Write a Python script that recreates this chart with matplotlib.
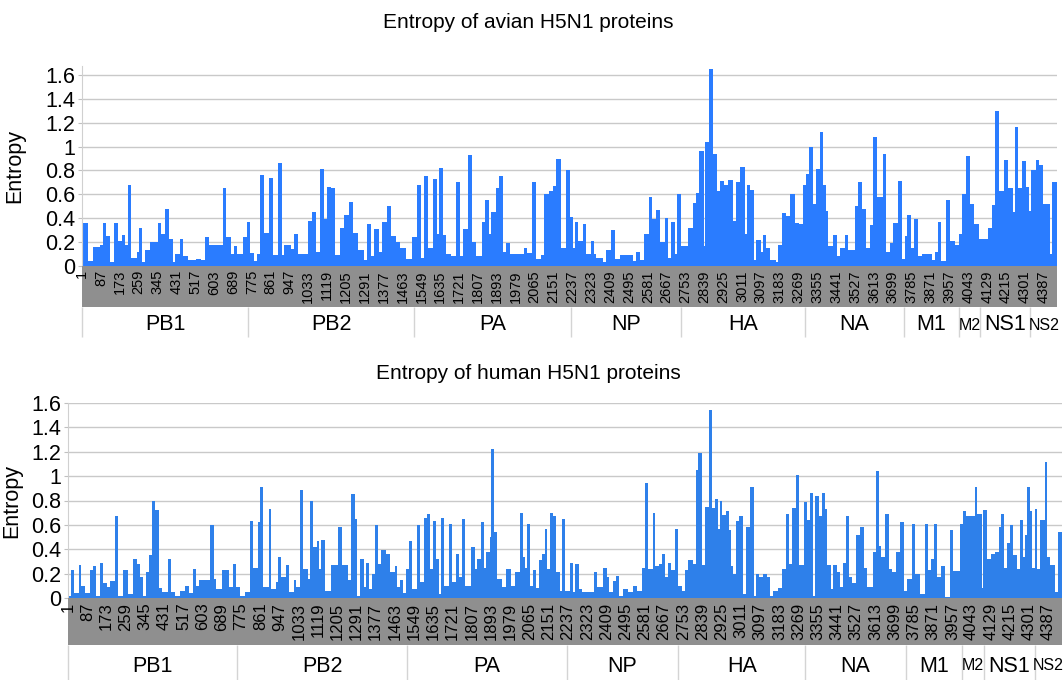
import numpy as np
import matplotlib
matplotlib.use("Agg")
import matplotlib.pyplot as plt

plt.rcParams['font.family'] = ['Liberation Sans', 'DejaVu Sans']

# proteins in the concatenated alignment and their lengths (residues)
proteins = ["PB1", "PB2", "PA", "NP", "HA", "NA", "M1", "M2", "NS1", "NS2"]
protein_len = [757, 759, 716, 498, 568, 449, 252, 97, 230, 121]
tick_step = 86

# entropy profile: a step starts at each position
avian_start = [
    1, 27, 51, 81, 95, 109, 128, 147, 163, 182,
    198, 209, 224, 252, 259, 274, 290, 312, 349, 363,
    381, 396, 414, 425, 448, 463, 484, 522, 545, 563,
    581, 642, 659, 680, 692, 707, 736, 753, 768, 786,
    801, 812, 829, 856, 871, 894, 911, 923, 955, 969,
    984, 1032, 1052, 1069, 1087, 1105, 1117, 1136, 1154, 1178,
    1197, 1219, 1237, 1259, 1288, 1303, 1321, 1333, 1356, 1368,
    1391, 1409, 1432, 1452, 1480, 1508, 1529, 1546, 1562, 1580,
    1600, 1619, 1629, 1647, 1663, 1685, 1707, 1725, 1739, 1763,
    1780, 1796, 1824, 1840, 1856, 1868, 1889, 1903, 1921, 1936,
    1951, 2015, 2030, 2053, 2071, 2096, 2108, 2132, 2150, 2165,
    2184, 2208, 2226, 2240, 2249, 2264, 2287, 2302, 2322, 2335,
    2346, 2378, 2393, 2415, 2431, 2454, 2513, 2530, 2548, 2565,
    2585, 2603, 2618, 2636, 2659, 2676, 2689, 2707, 2715, 2735,
    2764, 2788, 2803, 2817, 2837, 2844, 2863, 2878, 2895, 2910,
    2930, 2948, 2968, 2983, 3003, 3026, 3035, 3050, 3065, 3077,
    3096, 3108, 3123, 3141, 3166, 3176, 3193, 3213, 3232, 3251,
    3272, 3290, 3305, 3317, 3334, 3348, 3365, 3383, 3393, 3404,
    3425, 3443, 3460, 3480, 3497, 3526, 3542, 3560, 3577, 3595,
    3609, 3627, 3655, 3670, 3687, 3702, 3725, 3743, 3753, 3764,
    3781, 3797, 3813, 3830, 3876, 3890, 3904, 3920, 3940, 3958,
    3981, 4001, 4016, 4034, 4052, 4070, 4092, 4133, 4153, 4167,
    4183, 4208, 4226, 4246, 4255, 4271, 4287, 4305, 4319, 4328,
    4350, 4366, 4385, 4416, 4426,
]
avian_entropy = [
    .36, .04, .16, .18, .36, .25, .03, .36, .21, .26,
    .18, .68, .07, .12, .32, .03, .13, .2, .36, .27,
    .48, .23, .03, .1, .23, .08, .05, .06, .05, .24,
    .18, .65, .24, .1, .17, .1, .24, .37, .11, .04,
    .1, .76, .28, .74, .09, .86, .09, .18, .14, .27,
    .1, .38, .45, .12, .81, .39, .66, .65, .09, .32,
    .43, .54, .28, .13, .05, .35, .08, .31, .12, .37,
    .5, .25, .2, .15, .06, .24, .68, .07, .75, .15,
    .73, .27, .82, .26, .1, .08, .7, .08, .31, .93,
    .2, .08, .37, .55, .27, .45, .65, .75, .12, .19,
    .1, .15, .11, .7, .06, .09, .6, .63, .67, .9,
    .15, .8, .41, .15, .37, .21, .35, .1, .21, .1,
    .07, .03, .13, .3, .06, .09, .04, .12, .05, .27,
    .58, .39, .47, .2, .4, .07, .37, .1, .6, .17,
    .32, .53, .61, .96, .17, 1.04, 1.65, .94, .63, .71,
    .68, .72, .38, .7, .83, .27, .68, .64, .05, .22,
    .12, .26, .15, .05, .03, .18, .44, .42, .6, .36,
    .35, .68, .77, 1.0, .52, .81, 1.12, .68, .46, .17,
    .26, .08, .15, .26, .13, .5, .7, .48, .15, .34,
    1.08, .58, .94, .12, .19, .36, .71, .06, .25, .43,
    .15, .39, .08, .1, .05, .12, .37, .04, .55, .21,
    .18, .27, .6, .92, .52, .35, .23, .32, .51, 1.3,
    .63, .89, .65, .45, 1.16, .65, .88, .66, .46, .8,
    .89, .85, .52, .1, .7,
]

human_start = [
    1, 13, 27, 51, 61, 79, 101, 112, 127, 145,
    156, 176, 191, 212, 225, 248, 270, 294, 310, 323,
    336, 349, 365, 377, 392, 407, 422, 449, 464, 480,
    502, 525, 541, 560, 574, 589, 637, 653, 663, 689,
    723, 738, 753, 772, 795, 814, 829, 853, 862, 872,
    899, 911, 932, 942, 956, 977, 988, 1011, 1023, 1041,
    1051, 1073, 1085, 1096, 1115, 1125, 1135, 1152, 1179, 1209,
    1227, 1254, 1269, 1284, 1293, 1308, 1324, 1334, 1346, 1363,
    1373, 1387, 1403, 1424, 1443, 1464, 1475, 1487, 1499, 1515,
    1527, 1542, 1561, 1576, 1594, 1605, 1620, 1634, 1648, 1661,
    1669, 1681, 1705, 1718, 1736, 1751, 1763, 1778, 1806, 1822,
    1833, 1849, 1864, 1873, 1888, 1895, 1909, 1921, 1942, 1962,
    1982, 2001, 2024, 2035, 2046, 2056, 2068, 2083, 2095, 2106,
    2121, 2134, 2146, 2156, 2170, 2183, 2201, 2210, 2223, 2247,
    2262, 2271, 2286, 2302, 2353, 2367, 2396, 2411, 2423, 2441,
    2451, 2465, 2484, 2508, 2530, 2545, 2568, 2583, 2598, 2617,
    2629, 2644, 2660, 2672, 2686, 2697, 2717, 2732, 2747, 2763,
    2774, 2796, 2811, 2820, 2836, 2851, 2870, 2882, 2894, 2909,
    2917, 2929, 2944, 2956, 2968, 2974, 2990, 3005, 3020, 3035,
    3053, 3068, 3080, 3094, 3112, 3127, 3142, 3157, 3178, 3197,
    3212, 3227, 3242, 3257, 3270, 3294, 3309, 3320, 3335, 3343,
    3363, 3373, 3388, 3397, 3413, 3425, 3440, 3455, 3467, 3481,
    3494, 3510, 3528, 3545, 3560, 3577, 3601, 3615, 3630, 3640,
    3658, 3672, 3686, 3705, 3724, 3739, 3756, 3776, 3789, 3813,
    3835, 3850, 3861, 3876, 3891, 3906, 3925, 3947, 3962, 3990,
    4005, 4020, 4059, 4069, 4089, 4096, 4111, 4132, 4149, 4166,
    4177, 4189, 4204, 4214, 4228, 4245, 4259, 4272, 4283, 4292,
    4305, 4314, 4326, 4338, 4351, 4371, 4382, 4393, 4417, 4429,
]
human_entropy = [
    .02, .23, .04, .27, .1, .04, .23, .26, .02, .29,
    .12, .09, .14, .67, .02, .23, .03, .32, .28, .17,
    .02, .21, .35, .8, .72, .08, .05, .32, .05, .02,
    .06, .1, .04, .24, .1, .15, .6, .16, .07, .23,
    .09, .28, .09, .02, .05, .63, .25, .62, .91, .09,
    .73, .07, .13, .34, .17, .27, .05, .15, .09, .89,
    .24, .16, .8, .42, .47, .24, .48, .06, .27, .58,
    .27, .15, .85, .65, .02, .32, .09, .29, .07, .2,
    .6, .28, .39, .36, .21, .26, .09, .15, .04, .24,
    .47, .07, .6, .13, .66, .69, .24, .63, .32, .03,
    .66, .1, .61, .13, .36, .17, .65, .1, .42, .24,
    .32, .62, .25, .38, .5, 1.22, .54, .16, .09, .24,
    .1, .21, .7, .34, .25, .61, .1, .23, .08, .31,
    .36, .57, .24, .7, .67, .21, .06, .65, .06, .29,
    .05, .28, .07, .05, .21, .09, .25, .17, .05, .14,
    .18, .02, .07, .05, .1, .06, .25, .94, .24, .7,
    .26, .28, .36, .17, .29, .23, .57, .1, .06, .23,
    .31, .28, 1.05, 1.19, .27, .75, 1.54, .74, .81, .57,
    .8, .68, .71, .56, .26, .2, .63, .67, .03, .58,
    .91, .02, .2, .17, .2, .17, .02, .06, .08, .24,
    .69, .28, .74, 1.01, .27, .79, .64, .86, .02, .84,
    .67, .86, .73, .27, .07, .27, .21, .09, .29, .67,
    .17, .12, .52, .58, .25, .09, .38, 1.04, .43, .34,
    .69, .24, .21, .38, .62, .06, .16, .61, .2, .03,
    .61, .23, .32, .61, .17, .26, .01, .56, .22, .61,
    .71, .67, .91, .69, .08, .72, .32, .36, .38, .58,
    .69, .25, .45, .6, .35, .24, .64, .34, .52, .91,
    .71, .25, .73, .24, .64, 1.12, .34, .27, .05, .54,
]

W, H = 1063, 680
fig = plt.figure(figsize=(W / 100, H / 100), dpi=100)

bounds = np.concatenate([[0], np.cumsum(protein_len)]) + 0.5
x_end = bounds[-1]


def px_axes(x0, y0, x1, y1):
    # pixel box measured from the top-left corner
    return fig.add_axes([x0 / W, 1 - y1 / H, (x1 - x0) / W, (y1 - y0) / H])


def panel(start, entropy, color, title, title_y, x0, x1, ytop, y0, yband, yprot,
          ymax, tick_fs, ylab_x):
    ax = px_axes(x0, ytop, x1, y0)
    edges = np.append(np.array(start) - 0.5, x_end)
    ax.stairs(entropy, edges, fill=True, color=color, lw=0, zorder=2)
    ax.set_xlim(0.5, x_end)
    ax.set_ylim(0, ymax)
    yt = np.round(np.arange(0, 1.61, 0.2), 1)
    ax.set_yticks(yt)
    ax.set_yticklabels([f"{t:g}" for t in yt])
    ax.set_xticks([])
    ax.grid(axis='y', color='#c9c9c9', lw=1)
    ax.set_axisbelow(True)
    for s in ['top', 'right', 'bottom']:
        ax.spines[s].set_visible(False)
    ax.spines['left'].set_color('#d0d0d0')
    ax.tick_params(axis='y', length=3, color='#c0c0c0', labelsize=15.5, pad=2)
    ax.set_ylabel("Entropy", fontsize=15.5)
    ax.yaxis.set_label_coords(ylab_x, 0.5)
    fig.text(528 / W, 1 - title_y / H, title, ha='center', va='center', fontsize=15)

    # grey band with the position labels
    axb = px_axes(x0, y0, x1, yband)
    axb.set_facecolor('#8f8f8f')
    axb.set_xlim(0.5, x_end)
    axb.set_xticks([])
    axb.set_yticks([])
    for s in axb.spines.values():
        s.set_visible(False)
    for p in range(1, int(x_end), tick_step):
        axb.text(p, 0.9, str(p), rotation=90, ha='center', va='top',
                 fontsize=tick_fs, transform=axb.get_xaxis_transform())

    # protein row
    axp = px_axes(x0, yband, x1, yprot)
    axp.set_xlim(0.5, x_end)
    axp.set_ylim(0, 1)
    axp.axis('off')
    axp.vlines(bounds[:-1], 0, 1, color='#d4d4d4', lw=1, clip_on=False)
    centers = (bounds[:-1] + bounds[1:]) / 2
    for name, c in zip(proteins, centers):
        if name in ("M2", "NS2"):
            axp.text(c, 0.4, name, ha='center', va='center', fontsize=11.5)
        else:
            axp.text(c, 0.4, name, ha='center', va='center', fontsize=15.5)


panel(avian_start, avian_entropy, '#2a7cff', "Entropy of avian H5N1 proteins", 22,
      82, 1057, 66, 266, 307, 337, 1.675, 10.5, -0.058)
panel(human_start, human_entropy, '#2e80ea', "Entropy of human H5N1 proteins", 373,
      68, 1062, 403, 598, 645, 680, 1.6, 12, -0.046)

fig.savefig("out.png", dpi=100)
